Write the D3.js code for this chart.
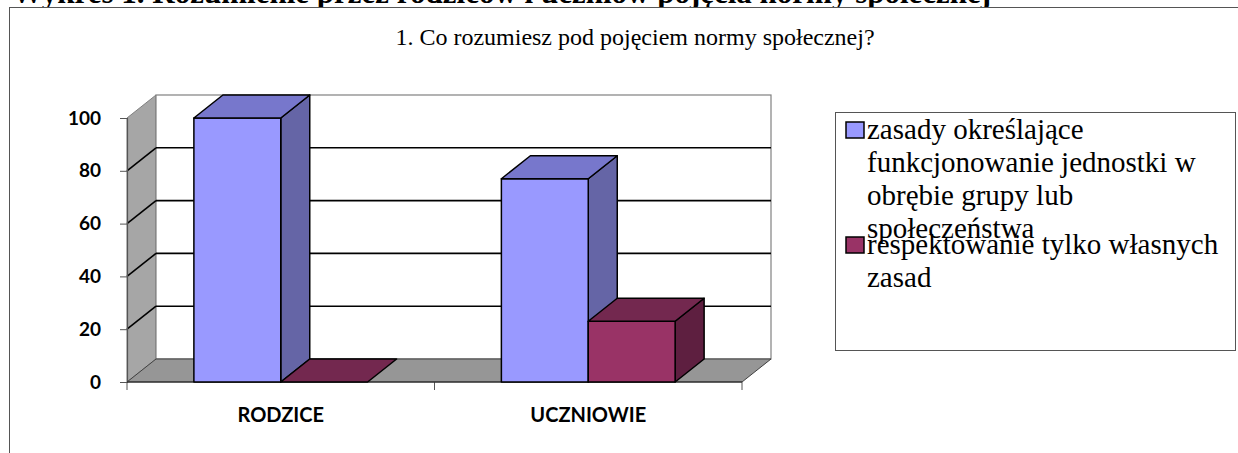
<!DOCTYPE html>
<html lang="pl">
<head>
<meta charset="utf-8">
<script src="https://cdn.jsdelivr.net/npm/d3@7"></script>
<style>
  html, body { margin: 0; padding: 0; background: #ffffff; }
  svg { display: block; }
</style>
</head>
<body>
<svg id="chart" width="1238" height="453"></svg>
<script>
// Survey question 1: how parents and pupils understand a "social norm" (percent of answers)
const categories = ["RODZICE", "UCZNIOWIE"];
const seriesNames = [
  "zasady określające funkcjonowanie jednostki w obrębie grupy lub społeczeństwa",
  "respektowanie tylko własnych zasad"
];
const seriesRules = [100, 77];     // zasady określające funkcjonowanie jednostki ...
const seriesOwnOnly = [0, 23];     // respektowanie tylko własnych zasad
const yTicks = [0, 20, 40, 60, 80, 100];
const legendLines = [
  ["zasady określające", "funkcjonowanie jednostki w", "obrębie grupy lub", "społeczeństwa"],
  ["respektowanie tylko własnych", "zasad"]
];
const pageHeading = "Wykres 1. Rozumienie przez rodziców i uczniów pojęcia normy społecznej";
const chartTitle = "1. Co rozumiesz pod pojęciem normy społecznej?";

const palette = [
  { front: "#9999FF", top: "#7777CC", side: "#6565A6" },
  { front: "#993366", top: "#73284F", side: "#5E1F40" }
];

const svg = d3.select("#chart");

// page heading running above the chart frame (cut by the top edge)
svg.append("text")
  .attr("x", 12).attr("y", 3)
  .attr("font-family", "'Liberation Serif', 'Times New Roman', serif")
  .attr("font-weight", "bold").attr("font-size", 31)
  .attr("fill", "#000")
  .text(pageHeading);

// chart frame
svg.append("rect")
  .attr("x", 9.5).attr("y", 7.5)
  .attr("width", 1260).attr("height", 470)
  .attr("fill", "#fff").attr("stroke", "#555").attr("stroke-width", 1);

// title
svg.append("text")
  .attr("x", 635).attr("y", 45)
  .attr("text-anchor", "middle")
  .attr("font-family", "'Liberation Serif', 'Times New Roman', serif")
  .attr("font-size", 24).attr("fill", "#000")
  .text(chartTitle);

// 3D plot geometry
const depthX = 29, depthY = -23;
const x = d3.scaleBand().domain(categories).range([127, 742]).paddingInner(0).paddingOuter(0);
const xs = d3.scaleBand().domain(d3.range(seriesNames.length)).range([0, x.bandwidth()])
  .paddingInner(0).paddingOuter(0.77);
const y = d3.scaleLinear().domain([0, 100]).range([382, 118]);

const x0 = x.range()[0], x1 = x.range()[1];
const y0 = y(0), yTop = y(100);
const pts = a => a.map(p => p.join(",")).join(" ");

const walls = svg.append("g");
// side wall
walls.append("polygon")
  .attr("points", pts([[x0, yTop], [x0 + depthX, yTop + depthY], [x0 + depthX, y0 + depthY], [x0, y0]]))
  .attr("fill", "#A6A6A6").attr("stroke", "#808080").attr("stroke-width", 1);
// back wall
walls.append("rect")
  .attr("x", x0 + depthX).attr("y", yTop + depthY)
  .attr("width", x1 - x0).attr("height", y0 - yTop)
  .attr("fill", "#fff").attr("stroke", "#808080").attr("stroke-width", 1.2);
// floor
walls.append("polygon")
  .attr("points", pts([[x0, y0], [x1, y0], [x1 + depthX, y0 + depthY], [x0 + depthX, y0 + depthY]]))
  .attr("fill", "#969696").attr("stroke", "#404040").attr("stroke-width", 1);

// grid lines on back wall and side wall
const grid = svg.append("g").attr("stroke", "#000").attr("stroke-width", 1.6).attr("fill", "none");
yTicks.filter(v => v > 0 && v < 100).forEach(v => {
  grid.append("line")
    .attr("x1", x0 + depthX).attr("x2", x1 + depthX)
    .attr("y1", y(v) + depthY).attr("y2", y(v) + depthY);
  grid.append("line")
    .attr("x1", x0).attr("x2", x0 + depthX)
    .attr("y1", y(v)).attr("y2", y(v) + depthY);
});

// y axis
const yAxis = d3.axisLeft(y).tickValues(yTicks).tickSize(7).tickPadding(19).tickFormat(d3.format("d"));
const gy = svg.append("g").attr("transform", `translate(${x0},0)`).call(yAxis);
gy.select(".domain").attr("stroke", "#555").attr("stroke-width", 1.2);
gy.selectAll(".tick line").attr("stroke", "#555");
gy.selectAll(".tick text")
  .attr("font-family", "Lato, 'Open Sans', sans-serif")
  .attr("font-weight", "bold").attr("font-size", 19).attr("fill", "#000");

// x axis: labels at band centres, tick marks at band edges
const xAxis = d3.axisBottom(x).tickSize(0).tickPadding(26);
const gx = svg.append("g").attr("transform", `translate(0,${y0})`).call(xAxis);
gx.select(".domain").remove();
gx.selectAll(".tick text")
  .attr("font-family", "Lato, 'Open Sans', sans-serif")
  .attr("font-weight", "bold").attr("font-size", 20).attr("fill", "#000");
const edges = categories.map(c => x(c)).concat([x1]);
svg.append("g").selectAll("line").data(edges).join("line")
  .attr("x1", d => d).attr("x2", d => d)
  .attr("y1", y0).attr("y2", y0 + 8)
  .attr("stroke", "#555").attr("stroke-width", 1);
svg.append("line")
  .attr("x1", x0).attr("x2", x1).attr("y1", y0).attr("y2", y0)
  .attr("stroke", "#222").attr("stroke-width", 1.2);

// bars
const seriesValues = [seriesRules, seriesOwnOnly];
const bars = svg.append("g").attr("stroke", "#000").attr("stroke-width", 1.5).attr("stroke-linejoin", "round");
categories.forEach((cat, ci) => {
  seriesValues.forEach((vals, si) => {
    const v = vals[ci];
    const bx0 = x(cat) + xs(si), bx1 = bx0 + xs.bandwidth();
    const by = y(v);
    const col = palette[si];
    const g = bars.append("g");
    if (v > 0) {
      g.append("polygon")
        .attr("points", pts([[bx1, by], [bx1 + depthX, by + depthY], [bx1 + depthX, y0 + depthY], [bx1, y0]]))
        .attr("fill", col.side);
      g.append("rect")
        .attr("x", bx0).attr("y", by).attr("width", bx1 - bx0).attr("height", y0 - by)
        .attr("fill", col.front);
    }
    g.append("polygon")
      .attr("points", pts([[bx0, by], [bx1, by], [bx1 + depthX, by + depthY], [bx0 + depthX, by + depthY]]))
      .attr("fill", col.top);
  });
});

// legend
const lg = svg.append("g");
lg.append("rect")
  .attr("x", 835.5).attr("y", 112.5).attr("width", 400).attr("height", 238)
  .attr("fill", "#fff").attr("stroke", "#555").attr("stroke-width", 1);
const legendFirstBaseline = [139, 254];
const lineStep = 33;
legendLines.forEach((lines, si) => {
  const b = legendFirstBaseline[si];
  lg.append("rect")
    .attr("x", 846).attr("y", b - 17).attr("width", 18).attr("height", 16)
    .attr("fill", palette[si].front).attr("stroke", "#000").attr("stroke-width", 1.5);
  const t = lg.append("text")
    .attr("font-family", "'Liberation Serif', 'Times New Roman', serif")
    .attr("font-size", 29).attr("fill", "#000");
  lines.forEach((ln, i) => {
    t.append("tspan").attr("x", 867).attr("y", b + i * lineStep).text(ln);
  });
});
</script>
</body>
</html>
